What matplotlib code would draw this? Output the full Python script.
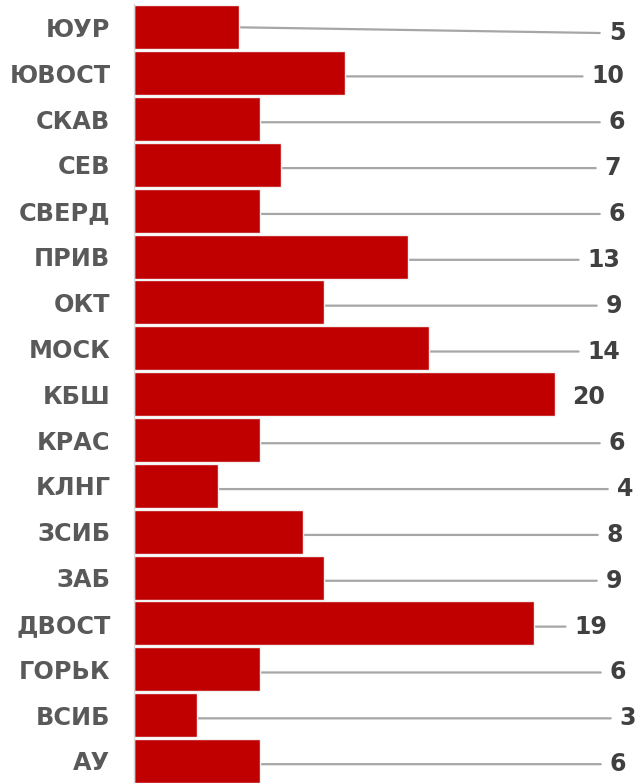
import matplotlib
matplotlib.use("Agg")
import matplotlib.pyplot as plt

categories = ["ЮУР", "ЮВОСТ", "СКАВ", "СЕВ", "СВЕРД", "ПРИВ", "ОКТ", "МОСК", "КБШ",
              "КРАС", "КЛНГ", "ЗСИБ", "ЗАБ", "ДВОСТ", "ГОРЬК", "ВСИБ", "АУ"]
values = [5, 10, 6, 7, 6, 13, 9, 14, 20, 6, 4, 8, 9, 19, 6, 3, 6]

# layout: label centre positions in pixels (hand-placed labels in the original)
label_px = [617, 608, 617, 613, 617, 604, 614, 604, 589, 617, 625, 615, 614, 591, 618, 628, 618]

W, H = 639, 783
fig = plt.figure(figsize=(W / 100, H / 100), dpi=100)
ax_left_px, px_per_unit = 134, 21.07
ax_w_px = W - ax_left_px
ax = fig.add_axes([ax_left_px / W, 0, ax_w_px / W, 1 - 4.4 / H])
ax.set_xlim(0, ax_w_px / px_per_unit)
ax.set_ylim(16.48, -0.5)

pos = list(range(len(categories)))
ax.barh(pos, values, height=0.96, color="#C00000", edgecolor="#F2F2F2", linewidth=1.0, zorder=2)

ax.set_yticks(pos)
ax.set_yticklabels(categories, fontsize=17.3, fontweight="bold", color="#595959")
ax.tick_params(axis="y", length=0, pad=17)
ax.set_xticks([])
for s in ["top", "right", "bottom"]:
    ax.spines[s].set_visible(False)
ax.spines["left"].set_color("#D9D9D9")
ax.spines["left"].set_linewidth(1.0)

for i, (v, lp) in enumerate(zip(values, label_px)):
    lx = (lp - ax_left_px) / px_per_unit
    ly = i + (0.13 if i == 0 else 0.07)
    start_y = i if i == 0 else ly
    gap_px = (lp - ax_left_px) - v * px_per_unit
    props = None
    if gap_px > 45:
        props = dict(arrowstyle="-", color="#A6A6A6", lw=1.6, shrinkA=4.5, shrinkB=0)
    ax.annotate(str(v), xy=(v, start_y), xytext=(lx, ly), ha="center", va="center",
                fontsize=17, fontweight="bold", color="#404040",
                arrowprops=props, annotation_clip=False, zorder=1)

fig.savefig("out.png", dpi=100)
